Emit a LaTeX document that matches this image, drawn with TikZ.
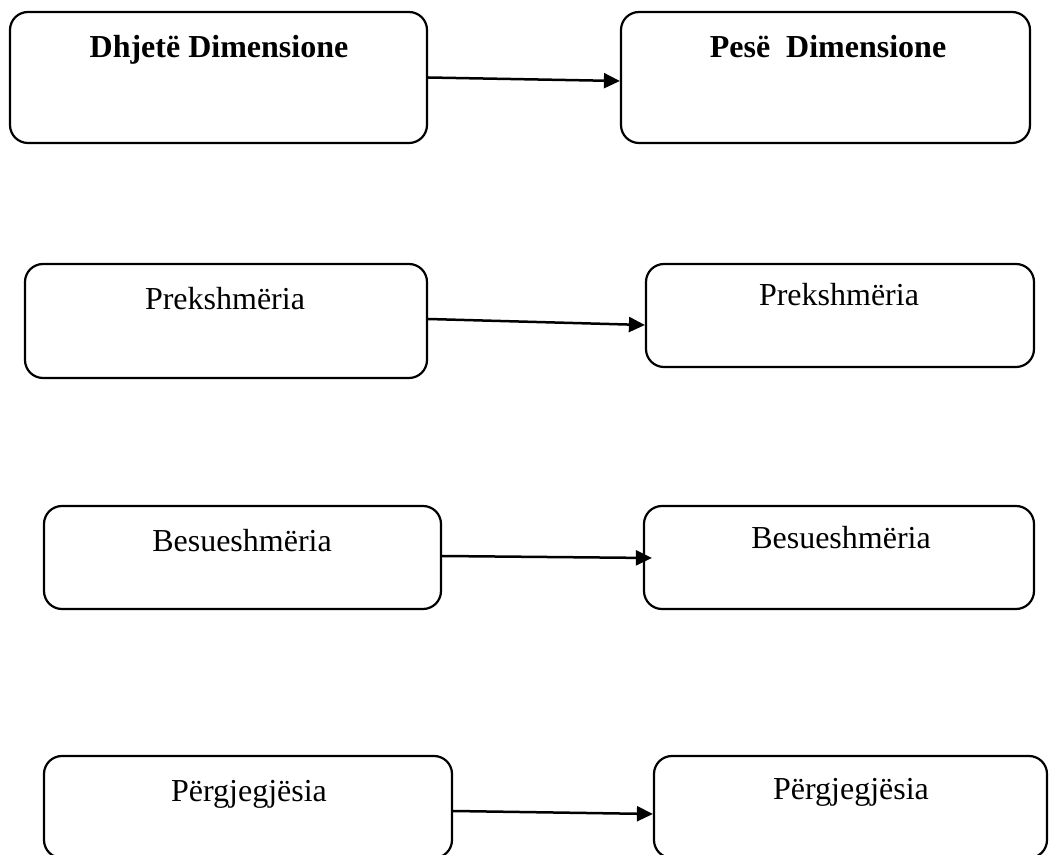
\documentclass[tikz,border=0pt]{standalone}
\usepackage{fontspec}
\setmainfont{Liberation Serif}
\usepackage{tikz}
\usetikzlibrary{arrows.meta}

\begin{document}
\begin{tikzpicture}[x=0.5pt, y=-0.5pt,
		box/.style={draw, line width=1.1pt, rounded corners=9pt, inner sep=0pt},
		title/.style={anchor=base, font=\fontsize{16}{19}\selectfont\bfseries},
		item/.style={anchor=base, font=\fontsize{16}{19}\selectfont},
		link/.style={line width=1.25pt, -{Triangle[length=8pt, width=7.5pt]}}]
		
		\clip (0,0) rectangle (1051,855);
		
		% Header boxes
		\node[box, minimum width=208.5pt, minimum height=65.5pt] (ten) at (218.5, 77.5) {};
		\node[box, minimum width=204.5pt, minimum height=65.5pt] (five) at (825.5, 77.5) {};
		\node[title] (tenT) at (219, 58) {Dhjetë Dimensione};
		\node[title] (fiveT) at (828, 58) {Pesë~~Dimensione};
		
		% Prekshmeria
		\node[box, minimum width=201pt, minimum height=57pt] (prekL) at (226, 321) {};
		\node[box, minimum width=194pt, minimum height=51.5pt] (prekR) at (840, 315.5) {};
		\node[item] (prekLT) at (225, 310) {Prekshmëria};
		\node[item] (prekRT) at (839, 306) {Prekshmëria};
		
		% Besueshmeria
		\node[box, minimum width=198.5pt, minimum height=51.5pt] (besL) at (242.5, 557.5) {};
		\node[box, minimum width=195pt, minimum height=51.5pt] (besR) at (839, 557.5) {};
		\node[item] (besLT) at (242, 552) {Besueshmëria};
		\node[item] (besRT) at (841, 549) {Besueshmëria};
		
		% Pergjegjesia
		\node[box, minimum width=204pt, minimum height=51pt] (perL) at (248, 807) {};
		\node[box, minimum width=196.5pt, minimum height=51pt] (perR) at (850.5, 807) {};
		\node[item] (perLT) at (249, 802) {Përgjegjësia};
		\node[item] (perRT) at (851, 800) {Përgjegjësia};
		
		% Arrows
		\draw[link] (ten.east) -- ([yshift=-1.75pt]five.west);
		\draw[link] ([yshift=1pt]prekL.east) -- ([yshift=-4.75pt]prekR.west);
		\draw[link] ([yshift=0.75pt]besL.east) -- ([xshift=4.5pt, yshift=-0.25pt]besR.west);
		\draw[link] ([yshift=-2pt]perL.east) -- ([yshift=-3.5pt]perR.west);
		
	\end{tikzpicture}
\end{document}
